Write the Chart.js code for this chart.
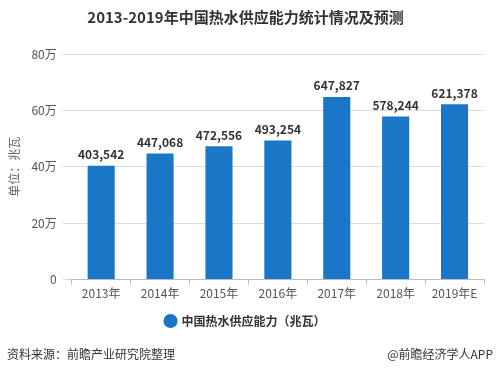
<!DOCTYPE html>
<html>
<head>
<meta charset="utf-8">
<script src="https://cdn.jsdelivr.net/npm/chart.js@4"></script>
<style>
  html, body { margin: 0; padding: 0; background: #fff; }
  #wrap { position: relative; width: 499px; height: 374px; }
  .foot { position: absolute; top: 345px; font-family: "Noto Sans CJK SC", sans-serif; font-size: 12px; color: #333; }
</style>
</head>
<body>
<div id="wrap">
  <canvas id="heatChart" width="499" height="374"></canvas>
  <div class="foot" style="left:7px;">资料来源：前瞻产业研究院整理</div>
  <div class="foot" style="right:6px;">@前瞻经济学人APP</div>
</div>
<script>
// --- Data ---
const years = ['2013年', '2014年', '2015年', '2016年', '2017年', '2018年', '2019年E'];
const capacity = [403542, 447068, 472556, 493254, 647827, 578244, 621378];
const seriesName = '中国热水供应能力（兆瓦）';
const yTicks = [0, 200000, 400000, 600000, 800000];

const fontFamily = '"Noto Sans CJK SC", "Microsoft YaHei", sans-serif';

// draw value labels on top of bars
const valueLabels = {
    id: 'valueLabels',
    afterDatasetsDraw(chart) {
        const ctx = chart.ctx;
        const meta = chart.getDatasetMeta(0);
        ctx.save();
        ctx.font = 'bold 12px ' + fontFamily;
        ctx.fillStyle = '#333';
        ctx.textAlign = 'center';
        ctx.textBaseline = 'bottom';
        meta.data.forEach((bar, i) => {
            ctx.fillText(capacity[i].toLocaleString('en-US'), bar.x, bar.y - 5);
        });
        ctx.restore();
    }
};

const ctx = document.getElementById('heatChart');
new Chart(ctx.getContext('2d'), {
    type: 'bar',
    data: {
        labels: years,
        datasets: [{
            label: seriesName,
            data: capacity,
            backgroundColor: '#1a76c6',
            barPercentage: 0.46,
            categoryPercentage: 1
        }]
    },
    options: {
        responsive: false,
        animation: false,
        layout: { padding: { left: 7, right: 15, top: 0, bottom: 37 } },
        plugins: {
            title: {
                display: true,
                text: '2013-2019年中国热水供应能力统计情况及预测',
                color: '#333',
                font: { family: fontFamily, size: 15, weight: 'bold' },
                padding: { top: 8, bottom: 28 }
            },
            legend: {
                position: 'bottom',
                labels: {
                    usePointStyle: true,
                    pointStyle: 'circle',
                    boxWidth: 10,
                    boxHeight: 10,
                    color: '#333',
                    font: { family: fontFamily, size: 12, weight: 'bold' },
                    padding: 12
                }
            },
            tooltip: { enabled: false }
        },
        scales: {
            x: {
                grid: { display: true, drawOnChartArea: false, drawTicks: true, tickLength: 5, color: '#bbb', offset: true },
                border: { color: '#bbb' },
                ticks: { color: '#555', font: { family: fontFamily, size: 12 }, padding: 2 }
            },
            y: {
                min: 0,
                max: 800000,
                afterBuildTicks(axis) {
                    axis.ticks = yTicks.map(v => ({ value: v }));
                },
                grid: { color: '#ddd', drawTicks: true, tickLength: 9 },
                border: { display: false },
                ticks: {
                    color: '#555',
                    padding: 6,
                    font: { family: fontFamily, size: 12 },
                    callback: v => v === 0 ? '0' : (v / 10000) + '万'
                },
                title: {
                    display: true,
                    text: '单位：兆瓦',
                    color: '#666',
                    font: { family: fontFamily, size: 12 },
                    padding: { top: 0, bottom: 4 }
                }
            }
        }
    },
    plugins: [valueLabels]
});
</script>
</body>
</html>
